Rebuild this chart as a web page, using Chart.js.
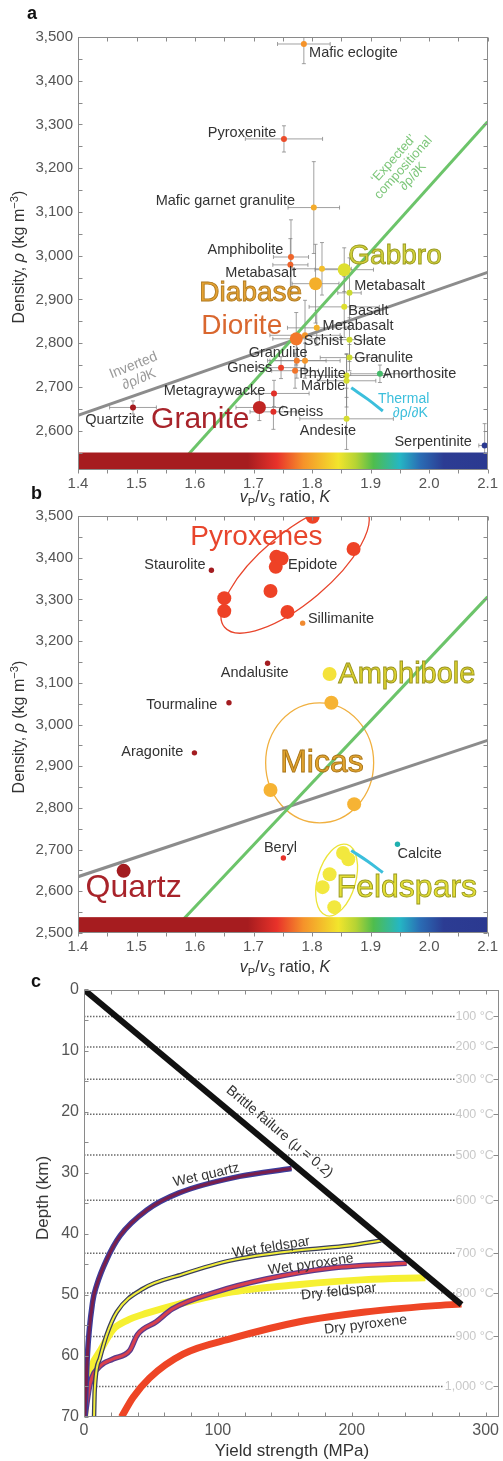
<!DOCTYPE html>
<html>
<head>
<meta charset="utf-8">
<title>Density, vP/vS ratio and yield strength</title>
<script src="https://cdn.jsdelivr.net/npm/chart.js@4.4.1/dist/chart.umd.min.js"></script>
<style>
  html, body { margin: 0; padding: 0; background: #fff; }
  body { position: relative; width: 503px; height: 1461px; overflow: hidden;
         font-family: "Liberation Sans", Arial, sans-serif; color: #333; }
  canvas { position: absolute; left: 0; }
  .txt { position: absolute; white-space: nowrap; transform: translate(-50%, -50%); font-size: 16px; color: #333; }
  .rot { transform: translate(-50%, -50%) rotate(-90deg); }
  .tag { position: absolute; font-weight: bold; font-size: 18px; color: #111; }
  sub, sup { font-size: 70%; line-height: 0; }
</style>
</head>
<body>
<canvas id="chartA" width="503" height="505" style="top:0"></canvas>
<canvas id="chartB" width="503" height="475" style="top:500px"></canvas>
<canvas id="chartC" width="503" height="486" style="top:975px"></canvas>

<div class="tag" style="left:27px;top:3px">a</div>
<div class="tag" style="left:31px;top:483px">b</div>
<div class="tag" style="left:31px;top:971px">c</div>
<div class="txt rot" style="left:19px;top:257px">Density, <i>ρ</i> (kg m<sup>−3</sup>)</div>
<div class="txt rot" style="left:19px;top:727px">Density, <i>ρ</i> (kg m<sup>−3</sup>)</div>
<div class="txt rot" style="left:43px;top:1198px;font-size:17px">Depth (km)</div>
<div class="txt" style="left:285px;top:497px"><i>v</i><sub>P</sub>/<i>v</i><sub>S</sub> ratio, <i>K</i></div>
<div class="txt" style="left:285px;top:967px"><i>v</i><sub>P</sub>/<i>v</i><sub>S</sub> ratio, <i>K</i></div>
<div class="txt" style="left:292px;top:1451px;font-size:17px">Yield strength (MPa)</div>

<script>
const FONT = '"Liberation Sans", Arial, sans-serif';
Chart.defaults.font.family = FONT;

// ---- panel a: rocks ----
const rockNames = ['Mafic eclogite', 'Pyroxenite', 'Mafic garnet granulite', 'Amphibolite', 'Amphibolite',
  'Metabasalt', 'Gabbro', 'Diabase', 'Metabasalt', 'Basalt', 'Metabasalt', 'Diorite', 'Schist', 'Slate',
  'Granulite', 'Granulite', 'Granulite', 'Gneiss', 'Phyllite', 'Phyllite', 'Marble', 'Anorthosite',
  'Metagraywacke', 'Granite', 'Gneiss', 'Quartzite', 'Andesite', 'Serpentinite'];
const rockK = [1.786, 1.752, 1.803, 1.764, 1.763, 1.817, 1.855, 1.806, 1.864, 1.855, 1.808, 1.773, 1.788, 1.864,
  1.774, 1.788, 1.864, 1.747, 1.771, 1.859, 1.859, 1.916, 1.735, 1.710, 1.734, 1.494, 1.859, 2.095];
const rockRho = [3484, 3267, 3110, 2997, 2979, 2970, 2968, 2936, 2915, 2883, 2835, 2810, 2818, 2808,
  2760, 2760, 2767, 2744, 2737, 2726, 2714, 2730, 2685, 2653, 2643, 2653, 2627, 2566];
const rockKErr = [0.045, 0.066, 0.044, 0.03, 0.03, 0.05, 0.05, 0.04, 0.02, 0.06, 0.05, 0.04, 0.06, 0.03,
  0.05, 0.06, 0.05, 0.04, 0.04, 0.07, 0.05, 0.05, 0.06, 0.04, 0.04, 0.04, 0.08, 0.01];
const rockRhoErr = [45, 30, 105, 85, 60, 60, 50, 90, 80, 70, 40, 60, 80, 50,
  40, 40, 30, 25, 40, 50, 60, 20, 30, 30, 40, 15, 70, 50];
const bigRocks = ['Gabbro', 'Diabase', 'Diorite', 'Granite'];

// reference lines shared by a and b
const invertedK = [1.4, 2.1];
const invertedRho = [2635, 2962];
const expectedK = [1.558, 2.1];
const expectedRho = [2500, 3306];
const thermalK = [1.867, 1.895, 1.921];
const thermalRho = [2698, 2672, 2645];

const xTicksK = [1.4, 1.5, 1.6, 1.7, 1.8, 1.9, 2.0, 2.1];
const yTicksA = [2600, 2700, 2800, 2900, 3000, 3100, 3200, 3300, 3400, 3500];
const yTicksB = [2500, 2600, 2700, 2800, 2900, 3000, 3100, 3200, 3300, 3400, 3500];

// text labels: [text, K, rho, align]
const labelsA = [
  ['Mafic eclogite', 1.795, 3463, 'left'], ['Pyroxenite', 1.739, 3281, 'right'],
  ['Mafic garnet granulite', 1.771, 3125, 'right'], ['Amphibolite', 1.751, 3013, 'right'],
  ['Metabasalt', 1.773, 2961, 'right'], ['Metabasalt', 1.872, 2931, 'left'], ['Basalt', 1.862, 2874, 'left'],
  ['Metabasalt', 1.818, 2840, 'left'], ['Schist', 1.786, 2806, 'left'], ['Slate', 1.870, 2806, 'left'],
  ['Granulite', 1.742, 2778, 'center'], ['Granulite', 1.872, 2767, 'left'], ['Gneiss', 1.732, 2744, 'right'],
  ['Phyllite', 1.778, 2730, 'left'], ['Marble', 1.781, 2701, 'left'], ['Anorthosite', 1.921, 2730, 'left'],
  ['Metagraywacke', 1.720, 2691, 'right'], ['Gneiss', 1.742, 2643, 'left'], ['Quartzite', 1.513, 2625, 'right'],
  ['Andesite', 1.779, 2600, 'left'], ['Serpentinite', 2.073, 2573, 'right']
];
const groupsA = [['Gabbro', 1.862, 2998, 'left'], ['Diabase', 1.783, 2915, 'right'],
  ['Diorite', 1.749, 2838, 'right'], ['Granite', 1.693, 2625, 'right']];

// ---- panel b: minerals ----
const pyroxK = [1.801, 1.871, 1.739, 1.738, 1.748, 1.729, 1.650, 1.650, 1.758];
const pyroxRho = [3498, 3421, 3402, 3378, 3398, 3320, 3303, 3272, 3270];
const amphK = [1.830];
const amphRho = [3121];
const micaK = [1.833, 1.729, 1.872];
const micaRho = [3052, 2843, 2809];
const feldK = [1.853, 1.862, 1.830, 1.818, 1.838];
const feldRho = [2692, 2677, 2641, 2610, 2562];
const quartzK = [1.478];
const quartzRho = [2649];
const minorNames = ['Staurolite', 'Sillimanite', 'Andalusite', 'Tourmaline', 'Aragonite', 'Beryl', 'Calcite'];
const minorK = [1.628, 1.784, 1.724, 1.658, 1.599, 1.751, 1.946];
const minorRho = [3370, 3243, 3147, 3052, 2932, 2680, 2713];

const labelsB = [
  ['Staurolite', 1.618, 3382, 'right'], ['Epidote', 1.759, 3382, 'left'], ['Sillimanite', 1.793, 3253, 'left'],
  ['Andalusite', 1.702, 3123, 'center'], ['Tourmaline', 1.638, 3047, 'right'], ['Aragonite', 1.580, 2934, 'right'],
  ['Beryl', 1.746, 2704, 'center'], ['Calcite', 1.946, 2689, 'left']
];
const groupsB = [['Pyroxenes', 1.705, 3450, 'center'], ['Amphibole', 1.845, 3119, 'left'],
  ['Micas', 1.817, 2908, 'center'], ['Quartz', 1.413, 2608, 'left'], ['Feldspars', 1.842, 2608, 'left']];

// ---- panel c: strength envelopes (MPa vs km) ----
const brittleX = [0, 282];
const brittleZ = [0, 51.6];
const wetQuartzX = [0.7, 2.5, 6.5, 9.5, 17, 27, 47, 71, 116, 155];
const wetQuartzZ = [70, 60, 51.1, 48.4, 44.2, 40.3, 36.1, 33.3, 30.6, 29.3];
const wetFeldX = [7.5, 8, 12, 17, 24.5, 44, 74, 111, 161, 198, 222];
const wetFeldZ = [70, 65.7, 60.3, 56.5, 52.8, 49, 46.6, 44.3, 42.7, 41.9, 41.1];
const wetPyxX = [0.7, 4.5, 11.9, 21.6, 34.2, 40, 54, 66, 99, 136, 185, 241];
const wetPyxZ = [70, 64.6, 61.7, 60.5, 59.1, 56.5, 54.4, 52.3, 49.5, 47.4, 45.6, 44.8];
const dryFeldX = [0.5, 2.2, 6, 12, 21.6, 32, 47, 71, 111, 161, 210, 255];
const dryFeldZ = [70, 64.6, 61.5, 59.2, 55.7, 54.2, 53.0, 51.5, 49.5, 48.3, 47.5, 47.2];
const dryPyxX = [28, 36.6, 49, 74, 111, 161, 210, 260, 282];
const dryPyxZ = [70, 66.8, 63.6, 59.7, 57.1, 54.4, 52.8, 51.8, 51.5];
const isoLabels = ['100 °C', '200 °C', '300 °C', '400 °C', '500 °C', '600 °C', '700 °C', '800 °C', '900 °C', '1,000 °C'];
const isoDepth = [4.4, 9.4, 14.7, 20.4, 27.1, 34.5, 43.2, 49.7, 56.8, 65.0];
const isoEnd = [277, 277, 277, 277, 277, 277, 277, 277, 277, 269];
const xTicksC = [0, 100, 200, 300];
const yTicksC = [0, 10, 20, 30, 40, 50, 60, 70];

// colour scale of the vP/vS bar
const cmapK = [1.4, 1.69, 1.74, 1.785, 1.845, 1.875, 1.905, 1.95, 1.985, 2.025, 2.1];
const cmapC = ['#a61c1f', '#a61c1f', '#e8322a', '#f5922a', '#f2e52c', '#b5d334', '#4fbd4d', '#25b6c4', '#2a6cb4', '#2c3c93', '#2b3990'];

function hex(c) { return [1, 3, 5].map(i => parseInt(c.substr(i, 2), 16)); }
function cmap(k) {
  if (k <= cmapK[0]) return cmapC[0];
  for (let i = 1; i < cmapK.length; i++) {
    if (k <= cmapK[i]) {
      const t = (k - cmapK[i - 1]) / (cmapK[i] - cmapK[i - 1]);
      const a = hex(cmapC[i - 1]), b = hex(cmapC[i]);
      return 'rgb(' + a.map((v, j) => Math.round(v + (b[j] - v) * t)).join(',') + ')';
    }
  }
  return cmapC[cmapC.length - 1];
}
const pts = (xs, ys) => xs.map((v, i) => ({ x: v, y: ys[i] }));

// ---- plugins ----
const framePlugin = {
  id: 'frame',
  afterDraw(chart, args, o) {
    const { ctx, chartArea: a, scales: { x, y } } = chart;
    ctx.save();
    ctx.strokeStyle = '#8a8a8a';
    ctx.lineWidth = 1;
    const L = Math.round(a.left) + 0.5, R = Math.round(a.right) - 0.5, T = Math.round(a.top) + 0.5, B = Math.round(a.bottom) - 0.5;
    ctx.strokeRect(L, T, R - L, B - T);
    ctx.beginPath();
    const nx = Math.floor((x.max - x.min) / o.xStep + 1e-6);
    for (let i = 0; i <= nx; i++) {
      const px = Math.round(x.getPixelForValue(x.min + i * o.xStep)) + 0.5;
      ctx.moveTo(px, T); ctx.lineTo(px, T + 4);
      ctx.moveTo(px, B); ctx.lineTo(px, B + (o.bottomOut ? 4 : -4));
    }
    const y0 = Math.ceil(y.min / o.yStep - 1e-6) * o.yStep;
    for (let v = y0; v <= y.max + 1e-6; v += o.yStep) {
      const py = Math.round(y.getPixelForValue(v)) + 0.5;
      ctx.moveTo(L, py); ctx.lineTo(L + 4, py);
      if (!o.rightVals) { ctx.moveTo(R, py); ctx.lineTo(R - 4, py); }
    }
    (o.rightVals || []).forEach(v => {
      const py = Math.round(y.getPixelForValue(v)) + 0.5;
      ctx.moveTo(R, py); ctx.lineTo(R - 5, py);
    });
    ctx.stroke();
    ctx.restore();
  }
};

const colorBarPlugin = {
  id: 'colorBar',
  afterDatasetsDraw(chart, args, o) {
    const { ctx, chartArea: a, scales: { y } } = chart;
    const top = y.getPixelForValue(o.hi), bot = y.getPixelForValue(o.lo);
    const g = ctx.createLinearGradient(a.left, 0, a.right, 0);
    cmapK.forEach((k, i) => g.addColorStop((k - cmapK[0]) / (cmapK[cmapK.length - 1] - cmapK[0]), cmapC[i]));
    ctx.save();
    ctx.fillStyle = g;
    ctx.fillRect(a.left, top, a.right - a.left, bot - top);
    ctx.restore();
  }
};

const errorBarPlugin = {
  id: 'errorBars',
  beforeDatasetsDraw(chart) {
    const { ctx, chartArea: a, scales: { x, y } } = chart;
    ctx.save();
    ctx.beginPath(); ctx.rect(a.left, a.top, a.right - a.left, a.bottom - a.top); ctx.clip();
    ctx.strokeStyle = 'rgba(130,130,130,0.75)';
    ctx.lineWidth = 1;
    ctx.beginPath();
    rockK.forEach((k, i) => {
      const px = x.getPixelForValue(k), py = y.getPixelForValue(rockRho[i]);
      const x0 = x.getPixelForValue(k - rockKErr[i]), x1 = x.getPixelForValue(k + rockKErr[i]);
      const y0 = y.getPixelForValue(rockRho[i] - rockRhoErr[i]), y1 = y.getPixelForValue(rockRho[i] + rockRhoErr[i]);
      ctx.moveTo(x0, py); ctx.lineTo(x1, py);
      ctx.moveTo(px, y0); ctx.lineTo(px, y1);
      ctx.moveTo(x0, py - 2); ctx.lineTo(x0, py + 2);
      ctx.moveTo(x1, py - 2); ctx.lineTo(x1, py + 2);
      ctx.moveTo(px - 2, y0); ctx.lineTo(px + 2, y0);
      ctx.moveTo(px - 2, y1); ctx.lineTo(px + 2, y1);
    });
    ctx.stroke();
    ctx.restore();
  }
};

const ellipsePlugin = {
  id: 'ellipses',
  beforeDatasetsDraw(chart, args, o) {
    const { ctx, chartArea: a, scales: { x, y } } = chart;
    ctx.save();
    ctx.beginPath(); ctx.rect(a.left, a.top, a.right - a.left, a.bottom - a.top); ctx.clip();
    (o.items || []).forEach(e => {
      ctx.beginPath();
      ctx.ellipse(x.getPixelForValue(e.k), y.getPixelForValue(e.rho), e.rx, e.ry, e.rot * Math.PI / 180, 0, Math.PI * 2);
      ctx.strokeStyle = e.color;
      ctx.lineWidth = 1.3;
      ctx.stroke();
    });
    ctx.restore();
  }
};

const notesPlugin = {
  id: 'notes',
  afterDatasetsDraw(chart, args, o) {
    const { ctx, scales: { x, y } } = chart;
    (o.items || []).forEach(n => {
      const size = n.size || 14.5;
      ctx.save();
      ctx.translate(x.getPixelForValue(n.x), y.getPixelForValue(n.y));
      if (n.rot) ctx.rotate(n.rot * Math.PI / 180);
      ctx.font = size + 'px ' + FONT;
      ctx.textAlign = n.align || 'left';
      ctx.textBaseline = 'middle';
      const lines = n.t.split('\n');
      const lh = n.lh || size;
      lines.forEach((s, i) => {
        const yy = (i - (lines.length - 1) / 2) * lh;
        ctx.fillStyle = n.color || '#333';
        ctx.fillText(s, 0, yy);
        if (n.stroke) { ctx.lineWidth = 0.9; ctx.strokeStyle = n.stroke; ctx.strokeText(s, 0, yy); }
      });
      ctx.restore();
    });
  }
};

function densityScales(yMin, yTicks, bottomH) {
  return {
    x: {
      type: 'linear', min: 1.4, max: 2.1,
      afterBuildTicks: s => { s.ticks = xTicksK.map(v => ({ value: v })); },
      afterFit: s => { s.height = bottomH; },
      ticks: { callback: v => v.toFixed(1), font: { size: 15 }, color: '#555', padding: 5 },
      grid: { display: false, drawTicks: false }, border: { display: false }
    },
    y: {
      type: 'linear', min: yMin, max: 3500,
      afterBuildTicks: s => { s.ticks = yTicks.map(v => ({ value: v })); },
      afterFit: s => { s.width = 78; },
      ticks: { callback: v => v.toLocaleString('en-US'), font: { size: 15 }, color: '#555', padding: 5 },
      grid: { display: false, drawTicks: false }, border: { display: false }
    }
  };
}

function refLines() {
  return [
    { data: pts(thermalK, thermalRho), showLine: true, borderColor: '#3cbfdc', borderWidth: 3, pointRadius: 0, tension: 0.4 },
    { data: pts(expectedK, expectedRho), showLine: true, borderColor: '#6cc46a', borderWidth: 3, pointRadius: 0 },
    { data: pts(invertedK, invertedRho), showLine: true, borderColor: '#8c8c8c', borderWidth: 3, pointRadius: 0 }
  ];
}

const refNotes = [
  { t: '‘Expected’\ncompositional\n∂ρ/∂K', x: 1.956, y: 3201, align: 'center', rot: -48, size: 13, lh: 13, color: '#7cc679' },
  { t: 'Inverted\n∂ρ/∂K', x: 1.4995, y: 2733, align: 'center', rot: -22, size: 14, lh: 15, color: '#9a9a9a' }
];
const groupStyleA = [['#d2d23a', '#9a9a22', 28], ['#e6a332', '#b07a20', 28], ['#d9672f', null, 28], ['#a8232a', null, 30]];
const groupStyleB = [['#e8452c', null, 28], ['#dcd22e', '#9a9420', 29], ['#e3a52f', '#a87418', 32], ['#a8232a', null, 32], ['#e5e036', '#9a9a20', 32]];

const baseOpts = { responsive: false, animation: false, events: [] };

// ---- chart a ----
new Chart(document.getElementById('chartA'), {
  type: 'scatter',
  data: {
    datasets: [
      { data: pts(rockK, rockRho), pointBackgroundColor: rockK.map(cmap), pointBorderWidth: 0,
        pointRadius: rockNames.map(n => bigRocks.includes(n) ? 6.5 : 3) },
      ...refLines()
    ]
  },
  options: {
    ...baseOpts,
    layout: { padding: { top: 37, right: 10, left: 0, bottom: 0 } },
    scales: densityScales(2510, yTicksA, 35),
    plugins: {
      legend: { display: false }, tooltip: { enabled: false },
      colorBar: { lo: 2510, hi: 2550 },
      frame: { xStep: 0.05, yStep: 50, bottomOut: true },
      notes: {
        items: [
          ...labelsA.map(l => ({ t: l[0], x: l[1], y: l[2], align: l[3] })),
          ...groupsA.map((g, i) => ({ t: g[0], x: g[1], y: g[2], align: g[3], color: groupStyleA[i][0], stroke: groupStyleA[i][1], size: groupStyleA[i][2] })),
          ...refNotes,
          { t: 'Thermal', x: 1.9565, y: 2671, align: 'center', size: 14, color: '#3cbfdc' },
          { t: '∂ρ/∂K', x: 1.968, y: 2641, align: 'center', size: 14, color: '#3cbfdc' }
        ]
      }
    }
  },
  plugins: [errorBarPlugin, colorBarPlugin, notesPlugin, framePlugin]
});

// ---- chart b ----
const big = 7, small = 2.7;
new Chart(document.getElementById('chartB'), {
  type: 'scatter',
  data: {
    datasets: [
      { data: pts(minorK, minorRho), pointRadius: small, pointBorderWidth: 0,
        pointBackgroundColor: ['#a31c20', '#f08a30', '#a31c20', '#a31c20', '#a31c20', '#e8322a', '#1fb0b0'] },
      { data: pts(pyroxK, pyroxRho), pointRadius: big, pointBorderWidth: 0, pointBackgroundColor: '#ee4226' },
      { data: pts(amphK, amphRho), pointRadius: big, pointBorderWidth: 0, pointBackgroundColor: '#f4e23a' },
      { data: pts(micaK, micaRho), pointRadius: big, pointBorderWidth: 0, pointBackgroundColor: '#f6b334' },
      { data: pts(feldK, feldRho), pointRadius: big, pointBorderWidth: 0, pointBackgroundColor: '#f2e83e' },
      { data: pts(quartzK, quartzRho), pointRadius: big, pointBorderWidth: 0, pointBackgroundColor: '#a31c20' },
      ...refLines()
    ]
  },
  options: {
    ...baseOpts,
    layout: { padding: { top: 16, right: 10, left: 0, bottom: 0 } },
    scales: densityScales(2500, yTicksB, 42),
    plugins: {
      legend: { display: false }, tooltip: { enabled: false },
      colorBar: { lo: 2500, hi: 2538 },
      frame: { xStep: 0.05, yStep: 50, bottomOut: true },
      ellipses: {
        items: [
          { k: 1.771, rho: 3375, rx: 92, ry: 35, rot: -40, color: '#e8452c' },
          { k: 1.813, rho: 2908, rx: 54, ry: 60, rot: 0, color: '#f0b040' },
          { k: 1.842, rho: 2627, rx: 19, ry: 37, rot: 16, color: '#ece43a' }
        ]
      },
      notes: {
        items: [
          ...labelsB.map(l => ({ t: l[0], x: l[1], y: l[2], align: l[3] })),
          ...groupsB.map((g, i) => ({ t: g[0], x: g[1], y: g[2], align: g[3], color: groupStyleB[i][0], stroke: groupStyleB[i][1], size: groupStyleB[i][2] }))
        ]
      }
    }
  },
  plugins: [ellipsePlugin, colorBarPlugin, notesPlugin, framePlugin]
});

// ---- chart c ----
const curve = (xs, zs, color, width, order) => ({
  data: pts(xs, zs), showLine: true, borderColor: color, borderWidth: width, pointRadius: 0,
  cubicInterpolationMode: 'monotone', order: order
});
new Chart(document.getElementById('chartC'), {
  type: 'scatter',
  data: {
    datasets: [
      { data: pts(brittleX, brittleZ), showLine: true, borderColor: '#111', borderWidth: 6, pointRadius: 0, order: 0 },
      curve(wetQuartzX, wetQuartzZ, '#7a1f4c', 3, 1),
      curve(wetQuartzX, wetQuartzZ, '#3b3d9c', 5.5, 2),
      curve(wetFeldX, wetFeldZ, '#f2ee3c', 2, 3),
      curve(wetFeldX, wetFeldZ, '#3a3f5c', 4.5, 4),
      curve(wetPyxX, wetPyxZ, '#d9404e', 3, 5),
      curve(wetPyxX, wetPyxZ, '#5b3b8c', 5.5, 6),
      curve(dryFeldX, dryFeldZ, '#f6f032', 7, 7),
      curve(dryPyxX, dryPyxZ, '#ee4525', 7, 8),
      ...isoDepth.map((d, i) => ({ data: [{ x: 0, y: d }, { x: isoEnd[i], y: d }], showLine: true, borderColor: '#6a6a6a',
        borderWidth: 1.5, borderDash: [1.5, 1.5], pointRadius: 0, order: 9 }))
    ]
  },
  options: {
    ...baseOpts,
    layout: { padding: { top: 9, right: 2, left: 0, bottom: 0 } },
    scales: {
      x: {
        type: 'linear', min: 0, max: 310,
        afterBuildTicks: s => { s.ticks = xTicksC.map(v => ({ value: v })); },
        afterFit: s => { s.height = 44; },
        ticks: { font: { size: 16 }, color: '#555', padding: 4 },
        grid: { display: false, drawTicks: false }, border: { display: false }
      },
      y: {
        type: 'linear', min: 0, max: 70, reverse: true,
        afterBuildTicks: s => { s.ticks = yTicksC.map(v => ({ value: v })); },
        afterFit: s => { s.width = 84; },
        ticks: { font: { size: 16 }, color: '#555', padding: 5 },
        grid: { display: false, drawTicks: false }, border: { display: false }
      }
    },
    plugins: {
      legend: { display: false }, tooltip: { enabled: false },
      frame: { xStep: 20, yStep: 5, rightVals: isoDepth },
      notes: {
        items: [
          ...isoLabels.map((t, i) => ({ t: t, x: isoEnd[i] + 0.5, y: isoDepth[i], size: 12.5, color: '#c8c8c8' })),
          { t: 'Brittle failure (μ = 0.2)', x: 146, y: 23.3, align: 'center', rot: 40, size: 14 },
          { t: 'Wet quartz', x: 91.4, y: 30.4, align: 'center', rot: -13, size: 14 },
          { t: 'Wet feldspar', x: 139.8, y: 42.2, align: 'center', rot: -9, size: 14 },
          { t: 'Wet pyroxene', x: 169.5, y: 45.0, align: 'center', rot: -8, size: 14 },
          { t: 'Dry feldspar', x: 190.3, y: 49.5, align: 'center', rot: -6, size: 14 },
          { t: 'Dry pyroxene', x: 210.4, y: 54.9, align: 'center', rot: -7, size: 14 }
        ]
      }
    }
  },
  plugins: [notesPlugin, framePlugin]
});
</script>
</body>
</html>
